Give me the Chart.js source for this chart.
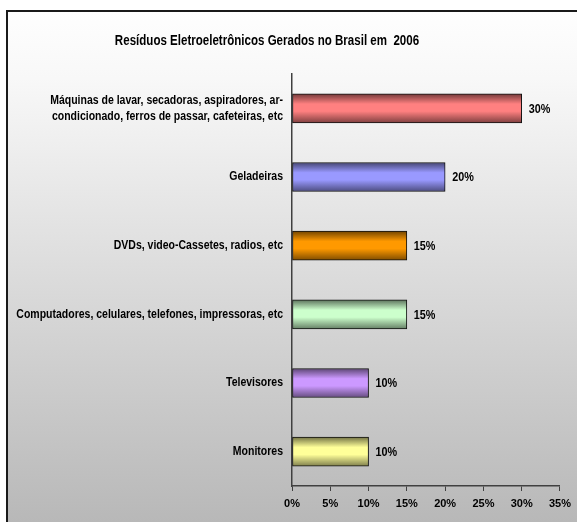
<!DOCTYPE html>
<html>
<head>
<meta charset="utf-8">
<script src="https://cdn.jsdelivr.net/npm/chart.js@4.4.1/dist/chart.umd.min.js"></script>
<style>
   html, body { margin: 0; padding: 0; background: #fff; }
   #chart { position: absolute; left: 0; top: 0; }
</style>
</head>
<body>
<canvas id="chart" width="577" height="522"></canvas>
<script>
const TITLE = "Resíduos Eletroeletrônicos Gerados no Brasil em  2006";

const categories = [
   ["Máquinas de lavar, secadoras, aspiradores, ar-", "condicionado, ferros de passar, cafeteiras, etc"],
   "Geladeiras",
   "DVDs, video-Cassetes, radios, etc",
   "Computadores, celulares, telefones, impressoras, etc",
   "Televisores",
   "Monitores",
];
const values = [30, 20, 15, 15, 10, 10];
const barColors = ["#ff8080", "#9999ff", "#ff9900", "#ccffcc", "#cc99ff", "#ffff99"];
const xTicks = [0, 5, 10, 15, 20, 25, 30, 35];

const FONT = "'Liberation Sans', Arial, sans-serif";
const BAR_H = 29;

function shade(hex, f) {
   const n = parseInt(hex.slice(1), 16);
   const r = Math.round(((n >> 16) & 255) * f);
   const g = Math.round(((n >> 8) & 255) * f);
   const b = Math.round((n & 255) * f);
   return `rgb(${r},${g},${b})`;
}

function barFill(ctx) {
   const chart = ctx.chart;
   const base = barColors[ctx.dataIndex] || "#999";
   const y = chart.scales?.y;
   if (!y || !chart.chartArea) return base;
   const cy = y.getPixelForValue(ctx.dataIndex);
   const g = chart.ctx.createLinearGradient(0, cy - BAR_H / 2, 0, cy + BAR_H / 2);
   g.addColorStop(0, shade(base, 0.45));
   g.addColorStop(0.35, base);
   g.addColorStop(0.6, base);
   g.addColorStop(1, shade(base, 0.5));
   return g;
}

// no Arial Narrow here, so squeeze the text horizontally
function narrowText(ctx, text, x, y, sx) {
   ctx.save();
   ctx.translate(x, y);
   ctx.scale(sx, 1);
   ctx.fillText(text, 0, 0);
   ctx.restore();
}

const bgPlugin = {
   id: "bg",
   beforeDraw(chart) {
      const ctx = chart.ctx;
      const h = chart.height;
      ctx.save();
      const g = ctx.createLinearGradient(0, 0, 0, h);
      g.addColorStop(0, "#ffffff");
      g.addColorStop(0.15, "#f8f8f8");
      g.addColorStop(1, "#b8b8b8");
      ctx.fillStyle = g;
      ctx.fillRect(7, 11, 580, 520);
      ctx.strokeStyle = "#1a1a1a";
      ctx.lineWidth = 2;
      ctx.beginPath();
      ctx.moveTo(7, h + 2);
      ctx.lineTo(7, 11);
      ctx.lineTo(chart.width + 2, 11);
      ctx.stroke();
      ctx.restore();
   },
};

const textPlugin = {
   id: "texts",
   afterDraw(chart) {
      const { ctx } = chart;
      ctx.save();
      ctx.fillStyle = "#000";
      ctx.textBaseline = "middle";

      ctx.font = `bold 15px ${FONT}`;
      ctx.textAlign = "center";
      narrowText(ctx, TITLE, 267, 41, 0.77);

      // category labels
      const y = chart.scales.y;
      ctx.font = `bold 12px ${FONT}`;
      ctx.textAlign = "right";
      categories.forEach((lab, i) => {
         const cy = y.getPixelForTick(i);
         const lines = Array.isArray(lab) ? lab : [lab];
         const lh = 16;
         lines.forEach((ln, k) => {
            const ly = cy + (k - (lines.length - 1) / 2) * lh;
            narrowText(ctx, ln, y.right - 9, ly, 0.875);
         });
      });

      // value labels
      const meta = chart.getDatasetMeta(0);
      ctx.textAlign = "left";
      meta.data.forEach((bar, i) => {
         narrowText(ctx, `${values[i]}%`, bar.x + 7, bar.y + 1, 0.9);
      });
      ctx.restore();
   },
};

new Chart(document.getElementById("chart"), {
   type: "bar",
   data: {
      labels: categories,
      datasets: [{
         data: values,
         backgroundColor: barFill,
         borderColor: "#111",
         borderWidth: 1,
         barThickness: BAR_H,
         borderSkipped: false,
      }],
   },
   options: {
      indexAxis: "y",
      responsive: false,
      animation: false,
      layout: { padding: { top: 74, right: 14, left: 0, bottom: 0 } },
      plugins: {
         legend: { display: false },
         tooltip: { enabled: false },
      },
      scales: {
         x: {
            min: 0,
            max: 35,
            afterBuildTicks: (scale) => {
               scale.ticks = xTicks.map((v) => ({ value: v }));
            },
            afterFit: (scale) => { scale.height = 36; },
            grid: {
               drawOnChartArea: false,
               drawTicks: true,
               tickLength: 5,
               color: "#404040",
            },
            border: { color: "#404040", width: 1.5 },
            ticks: {
               color: "#000",
               padding: 6,
               maxRotation: 0,
               font: { family: FONT, size: 11, weight: "bold" },
               callback: (v) => `${v}%`,
            },
         },
         y: {
            afterFit: (scale) => { scale.width = 292; },
            grid: { display: false, drawTicks: false },
            border: { color: "#404040", width: 1.5 },
            ticks: { display: false },
         },
      },
   },
   plugins: [bgPlugin, textPlugin],
});
</script>
</body>
</html>
